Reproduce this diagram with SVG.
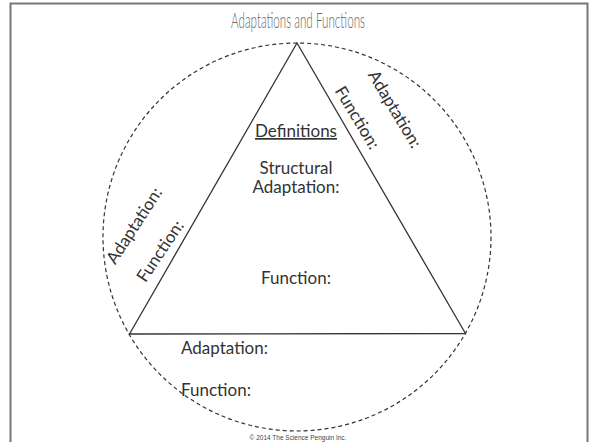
<svg xmlns="http://www.w3.org/2000/svg" width="590" height="442" viewBox="0 0 590 442">
  <style>
    .lbl { font-family: Lato, "Open Sans", sans-serif; font-size: 17px; fill: #333; }
    .title { font-family: Lato, "Liberation Sans", sans-serif; font-weight: 300; font-size: 22px; fill: #666; }
    .copy { font-family: "Liberation Sans", Arial, sans-serif; font-size: 6.5px; fill: #444; }
  </style>
  <rect x="0" y="0" width="590" height="442" fill="#fff"/>
  <g id="frame">
    <path d="M10.5 448 V3.5 H587.5 V448" fill="none" stroke="#777" stroke-width="2"/>
  </g>
  <g id="title">
    <text class="title" x="298" y="28" text-anchor="middle" textLength="134" lengthAdjust="spacingAndGlyphs">Adaptations and Functions</text>
  </g>
  <g id="connectors">
    <circle id="outer-circle" cx="297" cy="237" r="194" fill="none" stroke="#333" stroke-width="1.2" stroke-dasharray="4 3"/>
    <polygon id="triangle" points="297,43 465.5,333.5 129.5,334" fill="none" stroke="#333" stroke-width="1.3" stroke-linejoin="miter"/>
  </g>
  <g id="center-definitions">
    <text class="lbl" x="296" y="137" text-anchor="middle" text-decoration="underline">Definitions</text>
    <text class="lbl" x="296" y="174" text-anchor="middle">Structural</text>
    <text class="lbl" x="296" y="193" text-anchor="middle">Adaptation:</text>
    <text class="lbl" x="296" y="284" text-anchor="middle">Function:</text>
  </g>
  <g id="right-side">
    <text class="lbl" text-anchor="middle" transform="translate(395,109) rotate(59)" y="6">Adaptation:</text>
    <text class="lbl" text-anchor="middle" transform="translate(357.5,117.5) rotate(59)" y="6">Function:</text>
  </g>
  <g id="left-side">
    <text class="lbl" text-anchor="middle" transform="translate(134,225.5) rotate(-57)" y="6">Adaptation:</text>
    <text class="lbl" text-anchor="middle" transform="translate(160,251) rotate(-56)" y="6">Function:</text>
  </g>
  <g id="bottom-side">
    <text class="lbl" x="181" y="354">Adaptation:</text>
    <text class="lbl" x="181" y="396">Function:</text>
  </g>
  <g id="copyright">
    <text class="copy" x="298" y="440" text-anchor="middle">© 2014 The Science Penguin Inc.</text>
  </g>
</svg>
